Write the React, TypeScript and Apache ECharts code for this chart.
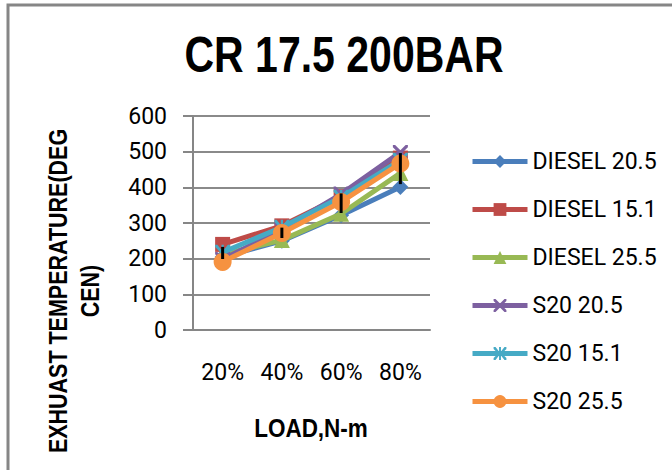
import React, { useEffect, useRef } from "react";
import * as echarts from "echarts";

const categories = ["20%", "40%", "60%", "80%"];
const seriesNames = ["DIESEL 20.5", "DIESEL 15.1", "DIESEL 25.5", "S20 20.5", "S20 15.1", "S20 25.5"];
const diesel205 = [205, 250, 322, 401];
const diesel151 = [240, 292, 374, 482];
const diesel255 = [212, 252, 326, 440];
const s20205 = [198, 282, 381, 498];
const s20151 = [218, 288, 372, 476];
const s20255 = [191, 272, 359, 467];
const errLow = [199, 258, 328, 409];
const errHigh = [233, 287, 383, 496];
const yTicks = [0, 100, 200, 300, 400, 500, 600];

const colors = ["#4A7EBB", "#BE4B48", "#98B954", "#7D60A0", "#46AAC5", "#F69240"];
const XPATH = "path://M0,0L3,0L10,7L17,0L20,0L20,3L13,10L20,17L20,20L17,20L10,13L3,20L0,20L0,17L7,10L0,3Z";
const STARPATH = "path://M0,0L3,0L8.5,7V0h3v7L17,0L20,0L20,3L13,10L20,17L20,20L17,20L11.5,13V20h-3v-7L3,20L0,20L0,17L7,10L0,3Z";
const BOLDFONT = "'Liberation Sans', Arial, sans-serif";
const LABELFONT = "Roboto, 'Liberation Sans', sans-serif";

export default function App() {
  const ref = useRef<HTMLDivElement>(null);
  useEffect(() => {
    if (!ref.current) return;
    const chart = echarts.init(ref.current, null, { renderer: "svg" });
    const values = [diesel205, diesel151, diesel255, s20205, s20151, s20255];
    const symbols = ["diamond", "rect", "triangle", XPATH, STARPATH, "circle"];
    const sizes = [16, 15, 16, 15, 15, 18];
    const lineSeries = values.map((v, i) => ({
      name: seriesNames[i],
      type: "line",
      data: v,
      symbol: symbols[i],
      symbolSize: sizes[i],
      showSymbol: true,
      lineStyle: { color: colors[i], width: 5 },
      itemStyle: { color: colors[i] },
      emphasis: { disabled: true },
      z: 2 + i,
    }));
    const errData = categories.map((_, i) => [i, errLow[i], errHigh[i]]);
    chart.setOption({
      animation: false,
      backgroundColor: "#ffffff",
      color: colors,
      grid: { left: 193, right: 242, top: 116, bottom: 140 },
      legend: {
        orient: "vertical",
        left: 470,
        top: 150,
        padding: 0,
        itemWidth: 55,
        itemHeight: 16,
        itemGap: 25,
        data: seriesNames,
        itemStyle: { borderWidth: 0 },
        lineStyle: { width: 5 },
        textStyle: { fontFamily: LABELFONT, fontSize: 23, color: "#000" },
      },
      xAxis: {
        type: "category",
        data: categories,
        boundaryGap: true,
        axisLine: { show: true, lineStyle: { color: "#868686", width: 2 } },
        axisTick: { show: false },
        axisLabel: { margin: 31, fontFamily: LABELFONT, fontSize: 23, color: "#000" },
      },
      yAxis: {
        type: "value",
        min: yTicks[0],
        max: yTicks[yTicks.length - 1],
        interval: 100,
        axisLine: { show: true, lineStyle: { color: "#868686", width: 2 } },
        axisTick: { show: true, length: 10, lineStyle: { color: "#868686", width: 2 } },
        splitLine: { show: true, lineStyle: { color: "#8a8a8a", width: 2 } },
        axisLabel: { margin: 26, fontFamily: LABELFONT, fontSize: 23, color: "#000" },
      },
      graphic: [
        {
          type: "rect",
          shape: { x: 8, y: 5, width: 720, height: 520 },
          style: { fill: "none", stroke: "#868686", lineWidth: 3 },
          z: 100,
        },
        {
          type: "text",
          x: 344,
          y: 55,
          scaleX: 0.82,
          style: {
            text: "CR 17.5 200BAR",
            fontFamily: BOLDFONT,
            fontWeight: "bold",
            fontSize: 50,
            fill: "#000",
            align: "center",
            verticalAlign: "middle",
          },
        },
        {
          type: "text",
          x: 311,
          y: 428,
          scaleX: 0.9,
          style: {
            text: "LOAD,N-m",
            fontFamily: BOLDFONT,
            fontWeight: "bold",
            fontSize: 25,
            fill: "#000",
            align: "center",
            verticalAlign: "middle",
          },
        },
        {
          type: "text",
          x: 74,
          y: 291,
          rotation: Math.PI / 2,
          scaleX: 0.86,
          style: {
            text: "EXHUAST TEMPERATURE(DEG\nCEN)",
            fontFamily: BOLDFONT,
            fontWeight: "bold",
            fontSize: 25,
            lineHeight: 32,
            fill: "#000",
            align: "center",
            verticalAlign: "middle",
          },
        },
      ],
      series: [
        ...lineSeries,
        {
          type: "custom",
          name: "err",
          data: errData,
          z: 20,
          renderItem: (params: any, api: any) => {
            const i = api.value(0);
            const p1 = api.coord([i, api.value(1)]);
            const p2 = api.coord([i, api.value(2)]);
            return {
              type: "line",
              shape: { x1: p1[0], y1: p1[1], x2: p2[0], y2: p2[1] },
              style: { stroke: "#000", lineWidth: 3 },
            };
          },
        },
      ],
    });
    return () => chart.dispose();
  }, []);
  return <div ref={ref} style={{ position: "fixed", left: 0, top: 0, width: 672, height: 470 }} />;
}
